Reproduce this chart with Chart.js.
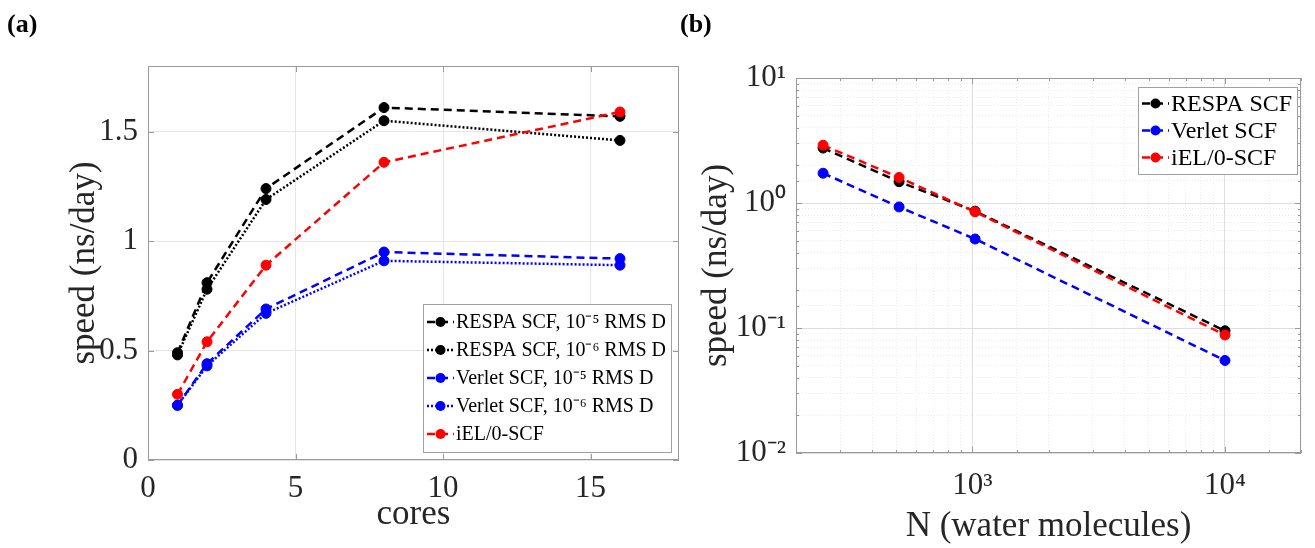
<!DOCTYPE html>
<html>
<head>
<meta charset="utf-8">
<script src="https://cdn.jsdelivr.net/npm/chart.js@4.4.1/dist/chart.umd.min.js"></script>
<style>
  body { margin: 0; width: 1315px; height: 548px; background: #fff; position: relative; overflow: hidden; }
  .panel { position: absolute; top: 0; height: 548px; }
  #boxA { left: 0; width: 685px; }
  #boxB { left: 685px; width: 630px; }
  .tag { position: absolute; font: bold 26px "Liberation Serif", serif; color: #000; }
</style>
</head>
<body>
<div class="panel" id="boxA"><canvas id="coresChart" width="685" height="548"></canvas></div>
<div class="panel" id="boxB"><canvas id="sizeChart" width="630" height="548"></canvas></div>
<div class="tag" style="left:7px;top:9px">(a)</div>
<div class="tag" style="left:680px;top:9px">(b)</div>
<script>
// panel (a): speed vs number of cores
const cores = [1, 2, 4, 8, 16];
const respa5 = [0.49, 0.81, 1.24, 1.61, 1.57];
const respa6 = [0.48, 0.78, 1.19, 1.55, 1.46];
const verlet5 = [0.25, 0.44, 0.69, 0.95, 0.92];
const verlet6 = [0.25, 0.43, 0.67, 0.91, 0.89];
const ielCores = [0.30, 0.54, 0.89, 1.36, 1.59];

// panel (b): speed vs system size
const waters = [256, 512, 1024, 10000];
const respaN = [2.75, 1.48, 0.86, 0.095];
const verletN = [1.73, 0.93, 0.515, 0.055];
const ielN = [2.9, 1.6, 0.85, 0.088];

const serif = '"Liberation Serif", "Times New Roman", serif';
const textColor = "#262626";
const DASH = [8, 5];
const DOT = [2, 2];

function isPow10(v) {
  const l = Math.log10(v);
  return Math.abs(l - Math.round(l)) < 1e-9;
}

const supDigits = { "-": "\u207b", 0: "\u2070", 1: "\u00b9", 2: "\u00b2", 3: "\u00b3", 4: "\u2074", 5: "\u2075", 6: "\u2076", 7: "\u2077", 8: "\u2078", 9: "\u2079" };
function powLabel(v) {
  if (!isPow10(v)) return "";
  const e = String(Math.round(Math.log10(v)));
  return "10" + e.split("").map((c) => supDigits[c]).join("");
}

function series(label, xs, ys, color, dash, order) {
  return {
    label: label,
    data: xs.map((x, i) => ({ x: x, y: ys[i] })),
    borderColor: color,
    backgroundColor: color,
    borderWidth: 2.5,
    borderDash: dash,
    pointRadius: 5,
    pointBackgroundColor: color,
    pointBorderColor: color,
    pointBorderWidth: 1,
    tension: 0,
    fill: false,
    order: order,
  };
}

// box around the axes with inward ticks (MATLAB style)
const frameTicks = {
  id: "frameTicks",
  beforeDatasetsDraw(chart) {
    const ctx = chart.ctx;
    const a = chart.chartArea;
    const xs = chart.scales.x;
    const ys = chart.scales.y;
    ctx.save();
    ctx.strokeStyle = "#9a9a9a";
    ctx.lineWidth = 1;
    ctx.setLineDash([]);
    ctx.beginPath();
    xs.ticks.forEach((t) => {
      const len = xs.type === "logarithmic" && !isPow10(t.value) ? 3 : 6;
      const px = Math.round(xs.getPixelForValue(t.value)) + 0.5;
      ctx.moveTo(px, a.bottom); ctx.lineTo(px, a.bottom - len);
      ctx.moveTo(px, a.top); ctx.lineTo(px, a.top + len);
    });
    ys.ticks.forEach((t) => {
      const len = ys.type === "logarithmic" && !isPow10(t.value) ? 3 : 6;
      const py = Math.round(ys.getPixelForValue(t.value)) + 0.5;
      ctx.moveTo(a.left, py); ctx.lineTo(a.left + len, py);
      ctx.moveTo(a.right, py); ctx.lineTo(a.right - len, py);
    });
    ctx.stroke();
    ctx.strokeRect(Math.round(a.left) + 0.5, Math.round(a.top) + 0.5, Math.round(a.right - a.left) - 1, Math.round(a.bottom - a.top) - 1);
    ctx.restore();
  },
};

// legend drawn inside the axes
const boxLegend = {
  id: "boxLegend",
  afterDatasetsDraw(chart, args, o) {
    const ctx = chart.ctx;
    const a = chart.chartArea;
    const sets = chart.data.datasets;
    ctx.save();
    ctx.font = o.size + "px " + serif;
    const textW = Math.max(...sets.map((d) => ctx.measureText(d.label).width));
    const w = 4 + o.sample + 2 + textW + 5;
    const h = sets.length * o.row + 2 * o.pad;
    const x = Math.round(a.right - o.insetX - w);
    const y = Math.round(o.bottom ? a.bottom - o.insetY - h : a.top + o.insetY);
    ctx.fillStyle = "#fff";
    ctx.fillRect(x, y, w, h);
    ctx.strokeStyle = "#a0a0a0";
    ctx.lineWidth = 1;
    ctx.strokeRect(x + 0.5, y + 0.5, Math.round(w), Math.round(h));
    sets.forEach((d, i) => {
      const cy = y + o.pad + o.row * (i + 0.5);
      const sx = x + 4;
      ctx.strokeStyle = d.borderColor;
      ctx.lineWidth = d.borderWidth;
      ctx.setLineDash(d.borderDash);
      ctx.beginPath();
      ctx.moveTo(sx, cy);
      ctx.lineTo(sx + o.sample, cy);
      ctx.stroke();
      ctx.setLineDash([]);
      ctx.fillStyle = d.borderColor;
      ctx.beginPath();
      ctx.arc(sx + o.sample / 2, cy, d.pointRadius, 0, 2 * Math.PI);
      ctx.fill();
      ctx.fillStyle = "#000";
      ctx.textBaseline = "middle";
      ctx.textAlign = "left";
      ctx.fillText(d.label, sx + o.sample + 2, cy + 1);
    });
    ctx.restore();
  },
};

const tickFont = { family: serif, size: 31 };
const titleFont = { family: serif, size: 35 };

const ctxA = document.getElementById("coresChart").getContext("2d");
const coresChart = new Chart(ctxA, {
  type: "line",
  data: {
    datasets: [
      series("RESPA SCF, 10\u207b\u2075 RMS D", cores, respa5, "#000000", DASH, 5),
      series("RESPA SCF, 10\u207b\u2076 RMS D", cores, respa6, "#000000", DOT, 4),
      series("Verlet SCF, 10\u207b\u2075 RMS D", cores, verlet5, "#0000ff", DASH, 3),
      series("Verlet SCF, 10\u207b\u2076 RMS D", cores, verlet6, "#0000ff", DOT, 2),
      series("iEL/0-SCF", cores, ielCores, "#ff0000", DASH, 1),
    ],
  },
  options: {
    responsive: false,
    animation: false,
    events: [],
    layout: { padding: { left: 0, right: 6, top: 66, bottom: 0 } },
    plugins: {
      legend: { display: false },
      tooltip: { enabled: false },
      boxLegend: { size: 20, row: 28, pad: 4, sample: 27, insetX: 8, insetY: 8, bottom: true },
    },
    scales: {
      x: {
        type: "linear",
        min: 0,
        max: 18,
        ticks: { stepSize: 5, includeBounds: false, font: tickFont, color: textColor, padding: 10, maxRotation: 0 },
        grid: { color: "#e6e6e6", drawTicks: false },
        border: { display: false },
        title: { display: true, text: "cores", font: titleFont, color: textColor, padding: { top: 0, bottom: 12 } },
        afterFit: (s) => { s.height = 88; },
      },
      y: {
        type: "linear",
        min: 0,
        max: 1.8,
        ticks: { stepSize: 0.5, includeBounds: false, font: tickFont, color: textColor, padding: 10, callback: (v) => String(+v.toFixed(2)) },
        grid: { color: "#e6e6e6", drawTicks: false },
        border: { display: false },
        title: { display: true, text: "speed (ns/day)", font: titleFont, color: textColor, padding: { top: 64, bottom: 0 } },
        afterFit: (s) => { s.width = 148; },
      },
    },
  },
  plugins: [frameTicks, boxLegend],
});

const logGrid = {
  color: (c) => (c.tick && !isPow10(c.tick.value) ? "#ececec" : "#dedede"),
  drawTicks: false,
};
const logBorder = {
  display: false,
  dash: (c) => (c.tick && !isPow10(c.tick.value) ? [1, 2] : []),
};

const ctxB = document.getElementById("sizeChart").getContext("2d");
const sizeChart = new Chart(ctxB, {
  type: "line",
  data: {
    datasets: [
      series("RESPA SCF", waters, respaN, "#000000", DASH, 3),
      series("Verlet SCF", waters, verletN, "#0000ff", DASH, 2),
      series("iEL/0-SCF", waters, ielN, "#ff0000", DASH, 1),
    ],
  },
  options: {
    responsive: false,
    animation: false,
    events: [],
    layout: { padding: { left: 0, right: 2, top: 78, bottom: 0 } },
    plugins: {
      legend: { display: false },
      tooltip: { enabled: false },
      boxLegend: { size: 24, row: 27, pad: 3, sample: 27, insetX: 4, insetY: 9, bottom: false },
    },
    scales: {
      x: {
        type: "logarithmic",
        min: 200,
        max: 20000,
        ticks: { autoSkip: false, font: tickFont, color: textColor, padding: 14, maxRotation: 0, callback: (v) => powLabel(v) },
        grid: logGrid,
        border: logBorder,
        title: { display: true, text: "N (water molecules)", font: titleFont, color: textColor, padding: { top: 0, bottom: 0 } },
        afterFit: (s) => { s.height = 95; },
      },
      y: {
        type: "logarithmic",
        min: 0.01,
        max: 10,
        ticks: { autoSkip: false, font: tickFont, color: textColor, padding: 10, callback: (v) => powLabel(v) },
        grid: logGrid,
        border: logBorder,
        title: { display: true, text: "speed (ns/day)", font: titleFont, color: textColor, padding: { top: 11, bottom: 0 } },
        afterFit: (s) => { s.width = 111; },
      },
    },
  },
  plugins: [frameTicks, boxLegend],
});
</script>
</body>
</html>
